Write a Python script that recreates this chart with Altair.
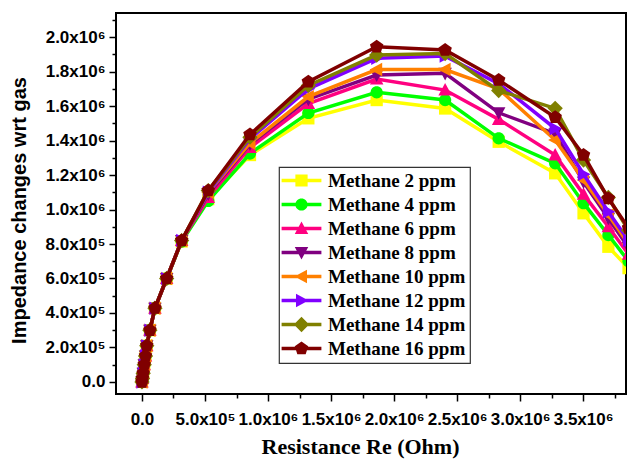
import altair as alt
import pandas as pd

series = ["Methane 2 ppm", "Methane 4 ppm", "Methane 6 ppm", "Methane 8 ppm",
          "Methane 10 ppm", "Methane 12 ppm", "Methane 14 ppm", "Methane 16 ppm"]
colors = ["#FFFF00", "#00FF00", "#FF0080", "#800080",
          "#FF8000", "#8000FF", "#808000", "#800000"]

resistance = [0, 4e3, 1e4, 1.8e4, 2.8e4, 3.8e4, 6.3e4, 1.03e5, 1.96e5, 3.15e5,
              5.26e5, 8.57e5, 1.32e6, 1.862e6, 2.405e6, 2.83e6, 3.278e6, 3.503e6, 3.70e6, 3.86e6]

imp_2 = [0, 2e4, 5e4, 1.0e5, 1.5e5, 2.1e5, 3.0e5, 4.28e5, 6.0e5, 8.15e5,
         1.06e6, 1.316e6, 1.529e6, 1.635e6, 1.586e6, 1.393e6, 1.21e6, 0.978e6, 0.784e6, 0.66e6]
imp_4 = [0, 2e4, 5e4, 1.0e5, 1.5e5, 2.1e5, 3.0e5, 4.28e5, 6.0e5, 8.15e5,
         1.05e6, 1.325e6, 1.56e6, 1.68e6, 1.635e6, 1.413e6, 1.268e6, 1.037e6, 0.852e6, 0.70e6]
imp_6 = [0, 2e4, 5e4, 1.0e5, 1.5e5, 2.1e5, 3.0e5, 4.28e5, 6.0e5, 8.2e5,
         1.07e6, 1.36e6, 1.615e6, 1.757e6, 1.693e6, 1.523e6, 1.316e6, 1.088e6, 0.90e6, 0.74e6]
imp_8 = [0, 2e4, 5e4, 1.0e5, 1.5e5, 2.1e5, 3.0e5, 4.28e5, 6.0e5, 8.2e5,
         1.09e6, 1.38e6, 1.64e6, 1.78e6, 1.79e6, 1.561e6, 1.44e6, 1.16e6, 0.95e6, 0.78e6]
imp_10 = [0, 2e4, 5e4, 1.0e5, 1.5e5, 2.1e5, 3.0e5, 4.28e5, 6.0e5, 8.2e5,
          1.10e6, 1.385e6, 1.655e6, 1.812e6, 1.812e6, 1.70e6, 1.403e6, 1.171e6, 0.97e6, 0.80e6]
imp_12 = [0, 2e4, 5e4, 1.0e5, 1.5e5, 2.1e5, 3.0e5, 4.28e5, 6.0e5, 8.2e5,
          1.10e6, 1.41e6, 1.70e6, 1.877e6, 1.89e6, 1.73e6, 1.47e6, 1.205e6, 0.987e6, 0.82e6]
imp_14 = [0, 2e4, 5e4, 1.0e5, 1.5e5, 2.1e5, 3.0e5, 4.28e5, 6.0e5, 8.2e5,
          1.11e6, 1.42e6, 1.72e6, 1.896e6, 1.905e6, 1.69e6, 1.587e6, 1.287e6, 1.07e6, 0.88e6]
imp_16 = [0, 2e4, 5e4, 1.0e5, 1.5e5, 2.1e5, 3.0e5, 4.28e5, 6.0e5, 8.2e5,
          1.11e6, 1.435e6, 1.741e6, 1.944e6, 1.925e6, 1.751e6, 1.535e6, 1.316e6, 1.064e6, 0.893e6]
impedances = [imp_2, imp_4, imp_6, imp_8, imp_10, imp_12, imp_14, imp_16]

x_ticks = [0, 250000, 500000, 750000, 1000000, 1250000, 1500000, 1750000, 2000000,
           2250000, 2500000, 2750000, 3000000, 3250000, 3500000, 3750000]
y_ticks = [0, 100000, 200000, 300000, 400000, 500000, 600000, 700000, 800000, 900000,
           1000000, 1100000, 1200000, 1300000, 1400000, 1500000, 1600000, 1700000,
           1800000, 1900000, 2000000, 2100000]

# marker shapes (unit paths, consistent winding)
markers = [
    "M-1,-1H1V1H-1Z",
    "M-1,0A1,1,0,1,1,1,0A1,1,0,1,1,-1,0Z",
    "M0,-1.15L1.1,0.9L-1.1,0.9Z",
    "M0,1.15L-1.1,-0.9L1.1,-0.9Z",
    "M-1.15,0L0.9,-1.1L0.9,1.1Z",
    "M1.15,0L-0.9,1.1L-0.9,-1.1Z",
    "M0,-1.25L1.25,0L0,1.25L-1.25,0Z",
    "M0,-1.15L1.1,-0.36L0.68,0.93L-0.68,0.93L-1.1,-0.36Z",
]
bar = "M-3.25,-0.3H3.25V0.3H-3.25Z"
legend_shapes = [bar + m for m in markers]

xs = alt.Scale(domain=[-206000, 3840000], nice=False, zero=False)
ys = alt.Scale(domain=[-70000, 2140000], nice=False, zero=False)

lab_x = ("datum.value % 500000 != 0 ? '' : datum.value == 0 ? '0.0' : "
         "datum.value < 1000000 ? format(datum.value/100000, '.1f') + 'x10\u2075' : "
         "format(datum.value/1000000, '.1f') + 'x10\u2076'")
lab_y = ("datum.value % 200000 != 0 ? '' : datum.value == 0 ? '0.0' : "
         "datum.value < 1000000 ? format(datum.value/100000, '.1f') + 'x10\u2075' : "
         "format(datum.value/1000000, '.1f') + 'x10\u2076'")

x_axis = alt.Axis(values=x_ticks, labelExpr=lab_x, title="Resistance Re (Ohm)",
                  tickSize={"condition": {"test": "datum.value % 500000 != 0", "value": 4}, "value": 7},
                  labelOverlap=False, labelFlush=False, grid=False, domain=False,
                  tickColor="black", tickWidth=1.5,
                  labelFont="Liberation Sans", labelFontSize=17, labelFontWeight="bold",
                  labelColor="black", labelPadding=10,
                  titleFont="Liberation Serif", titleFontSize=22, titleFontWeight="bold",
                  titleColor="black", titlePadding=9, titleX=244)
y_axis = alt.Axis(values=y_ticks, labelExpr=lab_y, title="Impedance changes wrt gas",
                  tickSize={"condition": {"test": "datum.value % 200000 != 0", "value": 4}, "value": 7},
                  labelOverlap=False, labelFlush=False, grid=False, domain=False,
                  tickColor="black", tickWidth=1.5,
                  labelFont="Liberation Sans", labelFontSize=17, labelFontWeight="bold",
                  labelColor="black", labelPadding=4,
                  titleFont="Liberation Sans", titleFontSize=20, titleFontWeight="bold",
                  titleColor="black", titlePadding=16, titleY=197)

layers = []
for i, (name, col, mk, vals) in enumerate(zip(series, colors, markers, impedances)):
    df = pd.DataFrame({"x": resistance, "y": vals, "series": name})
    base = alt.Chart(df).encode(
        x=alt.X("x:Q", scale=xs, axis=x_axis),
        y=alt.Y("y:Q", scale=ys, axis=y_axis),
    )
    line = base.mark_line(color=col, strokeWidth=3.5, clip=True)
    pts = base.mark_point(shape=mk, filled=True, color=col, size=150, opacity=1,
                          strokeWidth=0, clip=True)
    layers += [line, pts]

leg_df = pd.DataFrame({"series": series})
legend_layer = alt.Chart(leg_df).mark_point(filled=True, opacity=1, size=150).encode(
    color=alt.Color("series:N", scale=alt.Scale(domain=series, range=colors), title=None),
    shape=alt.Shape("series:N", scale=alt.Scale(domain=series, range=legend_shapes), title=None),
).transform_filter("false")
layers.append(legend_layer)

chart = alt.layer(*layers).properties(
    width=510, height=381,
    autosize=alt.AutoSizeParams(type="none"),
    padding={"left": 116, "top": 13, "right": 2, "bottom": 65},
    background="white",
).configure_view(stroke="black", strokeWidth=2).configure_axisX(
    titleFont="Liberation Serif", titleFontWeight="bold", titleFontSize=22,
).configure_legend(
    orient="none", legendX=163, legendY=154, padding=4,
    strokeColor="#333333", strokeWidth=1.2, fillColor="white",
    labelFont="Liberation Serif", labelFontSize=19, labelFontWeight="bold",
    labelColor="black", labelLimit=300,
    symbolSize=150, symbolStrokeWidth=0, symbolOffset=9, labelOffset=17,
    rowPadding=4,
)

chart.save("out.html", embed_options={"renderer": "svg", "actions": False})
